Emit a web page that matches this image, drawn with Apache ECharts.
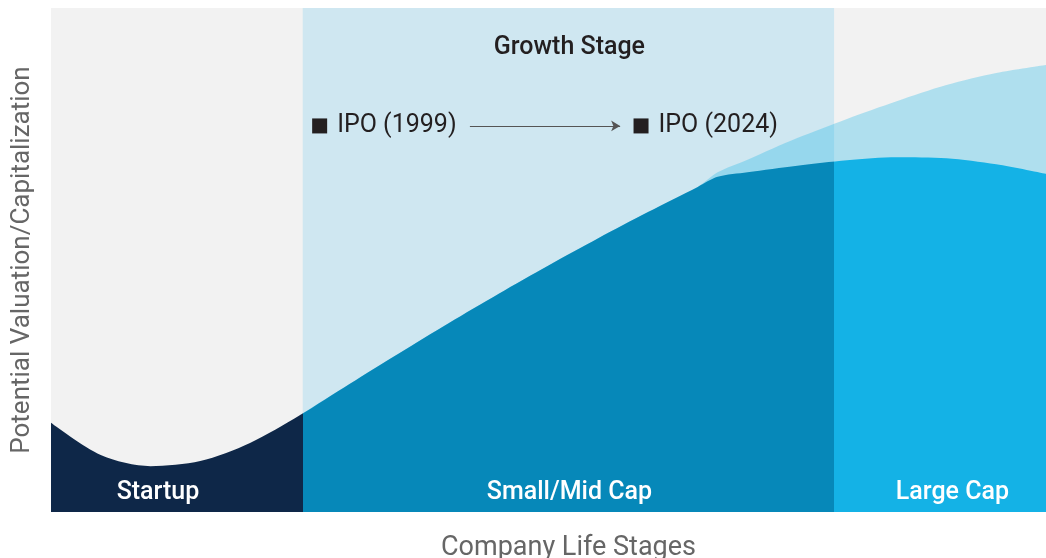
<!DOCTYPE html>
<html>
<head>
<meta charset="utf-8">
<script src="https://cdn.jsdelivr.net/npm/echarts@6/dist/echarts.min.js"></script>
<style>
  html, body { margin: 0; padding: 0; background: #fff; }
  #chart { width: 1046px; height: 558px; }
</style>
</head>
<body>
<div id="chart"></div>
<script>
// stage boundaries on the 0-100 life-stage axis
const stageEdges = [0, 25.3, 78.7, 100]
const stageNames = ['Startup', 'Small/Mid Cap', 'Large Cap']
const stageLabelX = [10.75, 52.1, 90.6]

// realised valuation curve (dark area)
const darkX = [0, 5, 10, 15, 20, 25, 30, 35, 40, 45, 50, 55, 60, 65, 67, 70, 75, 80, 85, 90, 95, 100]
const darkY = [17.7, 11.3, 9.1, 10.1, 13.7, 19.2, 25.4, 31.5, 37.5, 43.3, 48.9, 54.3, 59.5, 64.5, 66.5, 67.4, 68.7, 69.8, 70.4, 70.2, 69.0, 67.1]

// potential valuation curve (light area)
const lightX = [25, 30, 35, 40, 45, 50, 55, 60, 65, 67, 70, 75, 80, 85, 90, 95, 100]
const lightY = [19.2, 25.4, 31.5, 37.5, 43.3, 48.9, 54.3, 59.5, 64.5, 67.4, 69.9, 74.2, 78.0, 81.5, 84.7, 87.1, 88.7]

// IPO markers
const ipoNames = ['IPO (1999)', 'IPO (2024)']
const ipoX = [27.0, 59.3]
const ipoY = 76.6
const arrowX = [42.1, 57.2]

const chart = echarts.init(document.getElementById('chart'))

const zip = (xs, ys) => xs.map((x, i) => [x, ys[i]])

chart.setOption({
  animation: false,
  textStyle: { fontFamily: 'Roboto' },
  grid: {
    left: 51, right: 0, top: 8, bottom: 46,
    outerBoundsMode: 'none',
    containLabel: false,
    show: true, backgroundColor: '#f2f2f2', borderWidth: 0,
  },
  xAxis: {
    type: 'value', min: 0, max: 100,
    name: 'Company Life Stages',
    nameLocation: 'middle',
    nameGap: 23,
    nameTextStyle: { color: '#666', fontSize: 27, padding: [0, 0, 0, 40] },
    axisLine: { show: false }, axisTick: { show: false },
    axisLabel: { show: false }, splitLine: { show: false },
  },
  yAxis: {
    type: 'value', min: 0, max: 100,
    name: 'Potential Valuation/Capitalization',
    nameLocation: 'middle',
    nameGap: 16,
    nameTextStyle: { color: '#666', fontSize: 26 },
    axisLine: { show: false }, axisTick: { show: false },
    axisLabel: { show: false }, splitLine: { show: false },
  },
  visualMap: {
    show: false,
    type: 'piecewise',
    seriesIndex: 2,
    dimension: 0,
    pieces: [
      { lt: stageEdges[1], color: '#0e2748' },
      { gte: stageEdges[1], lt: stageEdges[2], color: '#0688b9' },
      { gte: stageEdges[2], color: '#14b2e6' },
    ],
  },
  series: [
    {
      // growth stage band
      type: 'line', z: 1, data: [], silent: true,
      markArea: {
        silent: true,
        itemStyle: { color: '#cfe7f1' },
        label: { show: false },
        data: [[{ xAxis: stageEdges[1], yAxis: 0 }, { xAxis: stageEdges[2], yAxis: 100 }]],
      },
    },
    {
      name: 'potential', type: 'line', z: 2,
      data: zip(lightX, lightY),
      smooth: 0.3, symbol: 'none',
      lineStyle: { width: 0 },
      areaStyle: { color: 'rgba(20,178,230,0.3)', opacity: 1 },
    },
    {
      name: 'valuation', type: 'line', z: 3,
      data: zip(darkX, darkY),
      smooth: 0.3, symbol: 'none',
      lineStyle: { width: 0 },
      areaStyle: { opacity: 1 },
    },
    {
      // text annotations
      type: 'line', z: 4, data: [], silent: true,
      markPoint: {
        silent: true,
        data: stageNames.map((n, i) => ({
          coord: [stageLabelX[i], 3.8],
          symbol: 'circle',
          symbolSize: 1,
          itemStyle: { color: 'rgba(0,0,0,0)' },
          label: { show: true, formatter: n, color: '#fff', fontSize: 25, fontWeight: 500, position: 'inside' },
        })).concat([{
          coord: [52.1, 92.1],
          symbol: 'circle',
          symbolSize: 1,
          itemStyle: { color: 'rgba(0,0,0,0)' },
          label: { show: true, formatter: 'Growth Stage', color: '#231f20', fontSize: 25, fontWeight: 500, position: 'inside' },
        }]).concat(ipoNames.map((n, i) => ({
          coord: [ipoX[i], ipoY],
          symbol: 'rect',
          symbolSize: 15,
          itemStyle: { color: '#231f20' },
          label: { show: true, formatter: n, color: '#231f20', fontSize: 25, position: 'right', distance: 10 },
        }))),
      },
      markLine: {
        silent: true,
        symbol: ['none', 'arrow'],
        symbolSize: [8, 9],
        lineStyle: { color: '#555', width: 1, type: 'solid' },
        label: { show: false },
        data: [[{ coord: [arrowX[0], ipoY] }, { coord: [arrowX[1], ipoY] }]],
      },
    },
  ],
})
</script>
</body>
</html>
